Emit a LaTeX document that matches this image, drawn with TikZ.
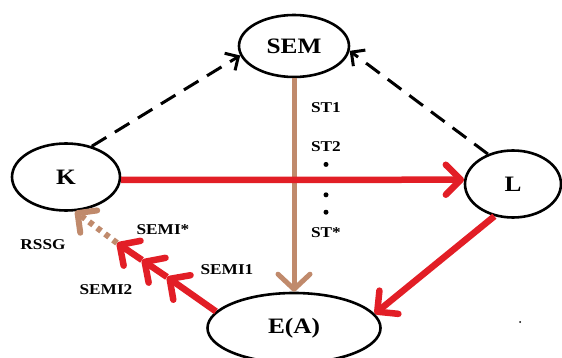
\documentclass[tikz,border=0pt]{standalone}
\usepackage{fontspec}
\setmainfont{Liberation Serif}[FakeStretch=1.15]
\usepackage{tikz}
\usetikzlibrary{shapes.geometric, arrows.meta, positioning}
\definecolor{semired}{RGB}{226,30,38}
\definecolor{sttan}{RGB}{192,138,108}
\tikzstyle{blob} = [ellipse, 
			draw, 
			line width = 2.6pt, 
			text centered, 
			font = \bfseries\fontsize{22}{24}\selectfont]
\tikzstyle{lbl} = [inner sep = 0pt, 
			text centered, 
			font = \bfseries\fontsize{15}{17}\selectfont]
\tikzstyle{vdot} = [circle, 
			fill, 
			inner sep = 0pt, 
			minimum size = 5pt]
\tikzstyle{dasharrow} = [draw, 
			line width = 3pt, 
			dash pattern = on 17pt off 10pt, 
			-{Straight Barb[length = 10pt, width = 20pt]}]
\tikzstyle{redarrow} = [draw, 
			semired, 
			line width = 6.5pt, 
			-{Straight Barb[length = 15pt, width = 30pt, round]}]
\tikzstyle{tanarrow} = [draw, 
			sttan, 
			line width = 5pt, 
			-{Straight Barb[length = 15pt, width = 32pt, round]}]
\tikzstyle{tandots} = [draw, 
			sttan, 
			line width = 6pt, 
			dash pattern = on 5pt off 5pt, 
			-{Straight Barb[length = 14pt, width = 28pt, round]}]

\begin{document}
\begin{tikzpicture}[x = 1pt, y = 1pt]
	\useasboundingbox (0,0) rectangle (562,-358);
	\node [blob, minimum width = 110pt, minimum height = 62pt] (sem) at (294,-46) {SEM};
	\node [blob, minimum width = 108pt, minimum height = 67pt] (k) at (66,-177) {K};
	\node [blob, minimum width = 96pt, minimum height = 67pt] (l) at (513,-184) {L};
	\node [blob, minimum width = 173pt, minimum height = 70pt] (ea) at (294,-328) {E(A)};
	\node [lbl] (st1) at (326,-108) {ST1};
	\node [lbl, below = 28pt of st1] (st2) {ST2};
	\node [vdot, below = 10pt of st2] (dot1) {};
	\node [vdot, below = 25pt of dot1] (dot2) {};
	\node [vdot, below = 12pt of dot2] (dot3) {};
	\node [lbl, below = 12pt of dot3] (ststar) {ST*};
	\node [lbl] (semistar) at (163,-230) {SEMI*};
	\node [lbl] (rssg) at (43,-245) {RSSG};
	\node [lbl] (semi1) at (227,-270) {SEMI1};
	\node [lbl] (semi2) at (106,-290) {SEMI2};
	\node [circle, fill, inner sep = 0pt, minimum size = 2pt] (speck) at (520,-322) {};
	\coordinate (tip1) at (167,-277);
	\coordinate (tip2) at (142,-260);
	\coordinate (tip3) at (117,-243);
	\draw [dasharrow] (k.50) -- (sem.190);
	\draw [dasharrow] (l.130) -- (sem.-5);
	\draw [tanarrow] (sem) -- (ea);
	\draw [redarrow] (k.-3) -- (l.175);
	\draw [redarrow] (l.-120) -- (ea.10);
	\draw [redarrow] (ea.168) -- (tip1);
	\draw [redarrow] (tip1) -- (tip2);
	\draw [redarrow] (tip2) -- (tip3);
	\draw [tandots] (tip3) -- (k.-75);
\end{tikzpicture}
\end{document}
